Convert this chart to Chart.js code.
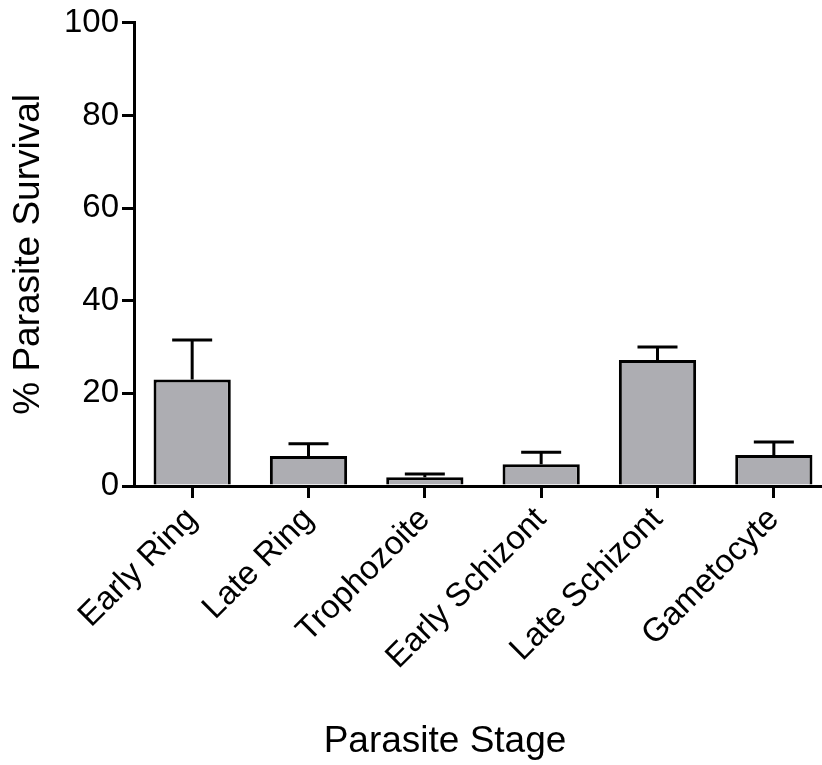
<!DOCTYPE html>
<html>
<head>
<meta charset="utf-8">
<script src="https://cdn.jsdelivr.net/npm/chart.js@4/dist/chart.umd.min.js"></script>
<style>
  html, body { margin: 0; padding: 0; background: #fff; overflow: hidden; }
  #wrap { position: relative; width: 832px; height: 765px; }
</style>
</head>
<body>
<div id="wrap"><canvas id="chart" width="832" height="765"></canvas></div>
<script>
// values
const stages = ['Early Ring', 'Late Ring', 'Trophozoite', 'Early Schizont', 'Late Schizont', 'Gametocyte'];
const survival = [23.0, 6.5, 1.9, 4.7, 27.2, 6.7];
const sem = [8.5, 2.6, 0.7, 2.6, 2.8, 2.8];
const yTicks = [0, 20, 40, 60, 80, 100];

const FONT = "'Liberation Sans', Arial, sans-serif";

// one-sided (upper) error bars with caps
const errorBarPlugin = {
  id: 'errorBars',
  afterDatasetsDraw(chart) {
    const { ctx, scales: { y } } = chart;
    const meta = chart.getDatasetMeta(0);
    ctx.save();
    ctx.strokeStyle = '#000';
    ctx.lineWidth = 3;
    ctx.lineCap = 'butt';
    meta.data.forEach((bar, i) => {
      const yBar = y.getPixelForValue(survival[i]);
      const yTop = y.getPixelForValue(survival[i] + sem[i]);
      const cap = 20;
      ctx.beginPath();
      ctx.moveTo(bar.x, yBar);
      ctx.lineTo(bar.x, yTop);
      ctx.moveTo(bar.x - cap, yTop);
      ctx.lineTo(bar.x + cap, yTop);
      ctx.stroke();
    });
    ctx.restore();
  },
};

// x-axis title: Prism places it left of the scale centre
const xTitlePlugin = {
  id: 'xTitle',
  afterDraw(chart) {
    const { ctx } = chart;
    ctx.save();
    ctx.font = '37px ' + FONT;
    ctx.fillStyle = '#000';
    ctx.textAlign = 'center';
    ctx.textBaseline = 'alphabetic';
    ctx.fillText('Parasite Stage', 445, 752);
    ctx.restore();
  },
};

new Chart(document.getElementById('chart'), {
  type: 'bar',
  data: {
    labels: stages,
    datasets: [{
      data: survival,
      backgroundColor: '#adadb2',
      borderColor: '#000',
      borderWidth: 3,
      borderSkipped: 'start',
      barPercentage: 0.664,
      categoryPercentage: 1,
    }],
  },
  options: {
    responsive: false,
    animation: false,
    layout: { padding: { top: 22, left: 0, right: 0, bottom: 0 } },
    plugins: { legend: { display: false }, tooltip: { enabled: false } },
    scales: {
      x: {
        offset: true,
        afterFit: (s) => { s.height = 279; },
        grid: {
          offset: false,
          drawOnChartArea: false,
          drawTicks: true,
          tickLength: 12,
          color: '#000',
          lineWidth: 3,
        },
        border: { color: '#000', width: 3, z: 1 },
        ticks: {
          color: '#000',
          font: { family: FONT, size: 33 },
          minRotation: 45,
          maxRotation: 45,
          padding: 2,
          autoSkip: false,
        },
      },
      y: {
        min: 0,
        max: 100,
        afterFit: (s) => { s.width = 134; },
        afterBuildTicks: (s) => { s.ticks = yTicks.map(v => ({ value: v })); },
        grid: {
          drawOnChartArea: false,
          drawTicks: true,
          tickLength: 12,
          color: '#000',
          lineWidth: 3,
        },
        border: { color: '#000', width: 3 },
        ticks: {
          color: '#000',
          font: { family: FONT, size: 33 },
          padding: 3,
        },
        title: {
          display: true,
          text: '% Parasite Survival',
          color: '#000',
          font: { family: FONT, size: 37 },
          padding: { top: 7, bottom: 0 },
        },
      },
    },
  },
  plugins: [errorBarPlugin, xTitlePlugin],
});
</script>
</body>
</html>
